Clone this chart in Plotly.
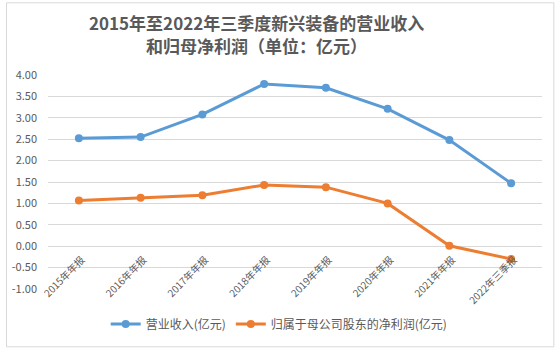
import plotly.graph_objects as go

categories = ["2015年年报", "2016年年报", "2017年年报", "2018年年报",
              "2019年年报", "2020年年报", "2021年年报", "2022年三季报"]
revenue = [2.52, 2.55, 3.08, 3.79, 3.70, 3.21, 2.48, 1.47]
net_profit = [1.07, 1.13, 1.19, 1.43, 1.38, 1.00, 0.01, -0.30]
y_ticks = [4.0, 3.5, 3.0, 2.5, 2.0, 1.5, 1.0, 0.5, 0.0, -0.5, -1.0]
y_min, y_max = -1.0, 4.0
title_lines = ["2015年至2022年三季度新兴装备的营业收入", "和归母净利润（单位：亿元）"]

BLUE = "#5B9BD5"
ORANGE = "#ED7D31"
TXT = "#595959"
FONT = "Noto Sans CJK SC"
W, H = 557, 351

fig = go.Figure()
fig.add_trace(go.Scatter(
    x=list(range(len(categories))), y=revenue, name="营业收入(亿元)",
    mode="lines+markers", line=dict(color=BLUE, width=3),
    marker=dict(color=BLUE, size=8)))
fig.add_trace(go.Scatter(
    x=list(range(len(categories))), y=net_profit, name="归属于母公司股东的净利润(亿元)",
    mode="lines+markers", line=dict(color=ORANGE, width=3),
    marker=dict(color=ORANGE, size=8)))

fig.update_layout(
    width=W, height=H,
    margin=dict(l=42, r=15, t=75, b=59.5),
    paper_bgcolor="white", plot_bgcolor="white",
    font=dict(family=FONT, color=TXT, size=11),
    showlegend=True,
    legend=dict(orientation="h", x=(276 - 42) / 500, xanchor="center",
                y=-(327 - 291.5) / 216.5, yanchor="middle",
                font=dict(size=12, color=TXT), itemwidth=30,
                bgcolor="rgba(0,0,0,0)"),
    xaxis=dict(
        range=[-0.5, len(categories) - 0.5],
        tickmode="array", tickvals=list(range(len(categories))), ticktext=categories,
        tickangle=-45, tickfont=dict(size=10, color=TXT),
        showgrid=False, showline=False, zeroline=False,
        anchor="free", position=(0 - y_min) / (y_max - y_min),
        ticks="", ticklabelstandoff=5, ticklabelshift=3),
    yaxis=dict(
        range=[y_min, y_max], tickmode="array", tickvals=y_ticks,
        ticktext=[f"{v:.2f}" for v in y_ticks],
        tickfont=dict(size=11, color=TXT),
        showgrid=True, gridcolor="#D9D9D9", gridwidth=1,
        zeroline=False, showline=False, ticklabelstandoff=10),
)

# title, two lines
for txt, yc in zip(title_lines, [22, 45.5]):
    fig.add_annotation(text=txt, xref="paper", yref="paper",
                       x=(253 - 42) / 500, xanchor="center",
                       y=1 + (75 - yc) / 216.5, yanchor="middle",
                       showarrow=False,
                       font=dict(family=FONT, size=17, color=TXT, weight="bold"))

# chart border
fig.add_shape(type="rect", xref="paper", yref="paper",
              x0=-42 / 500, x1=(554 - 42) / 500,
              y0=-(350 - 291.5) / 216.5, y1=1 + (75 - 2) / 216.5,
              line=dict(color="#D9D9D9", width=1), layer="below")

fig.write_html("out.html")
